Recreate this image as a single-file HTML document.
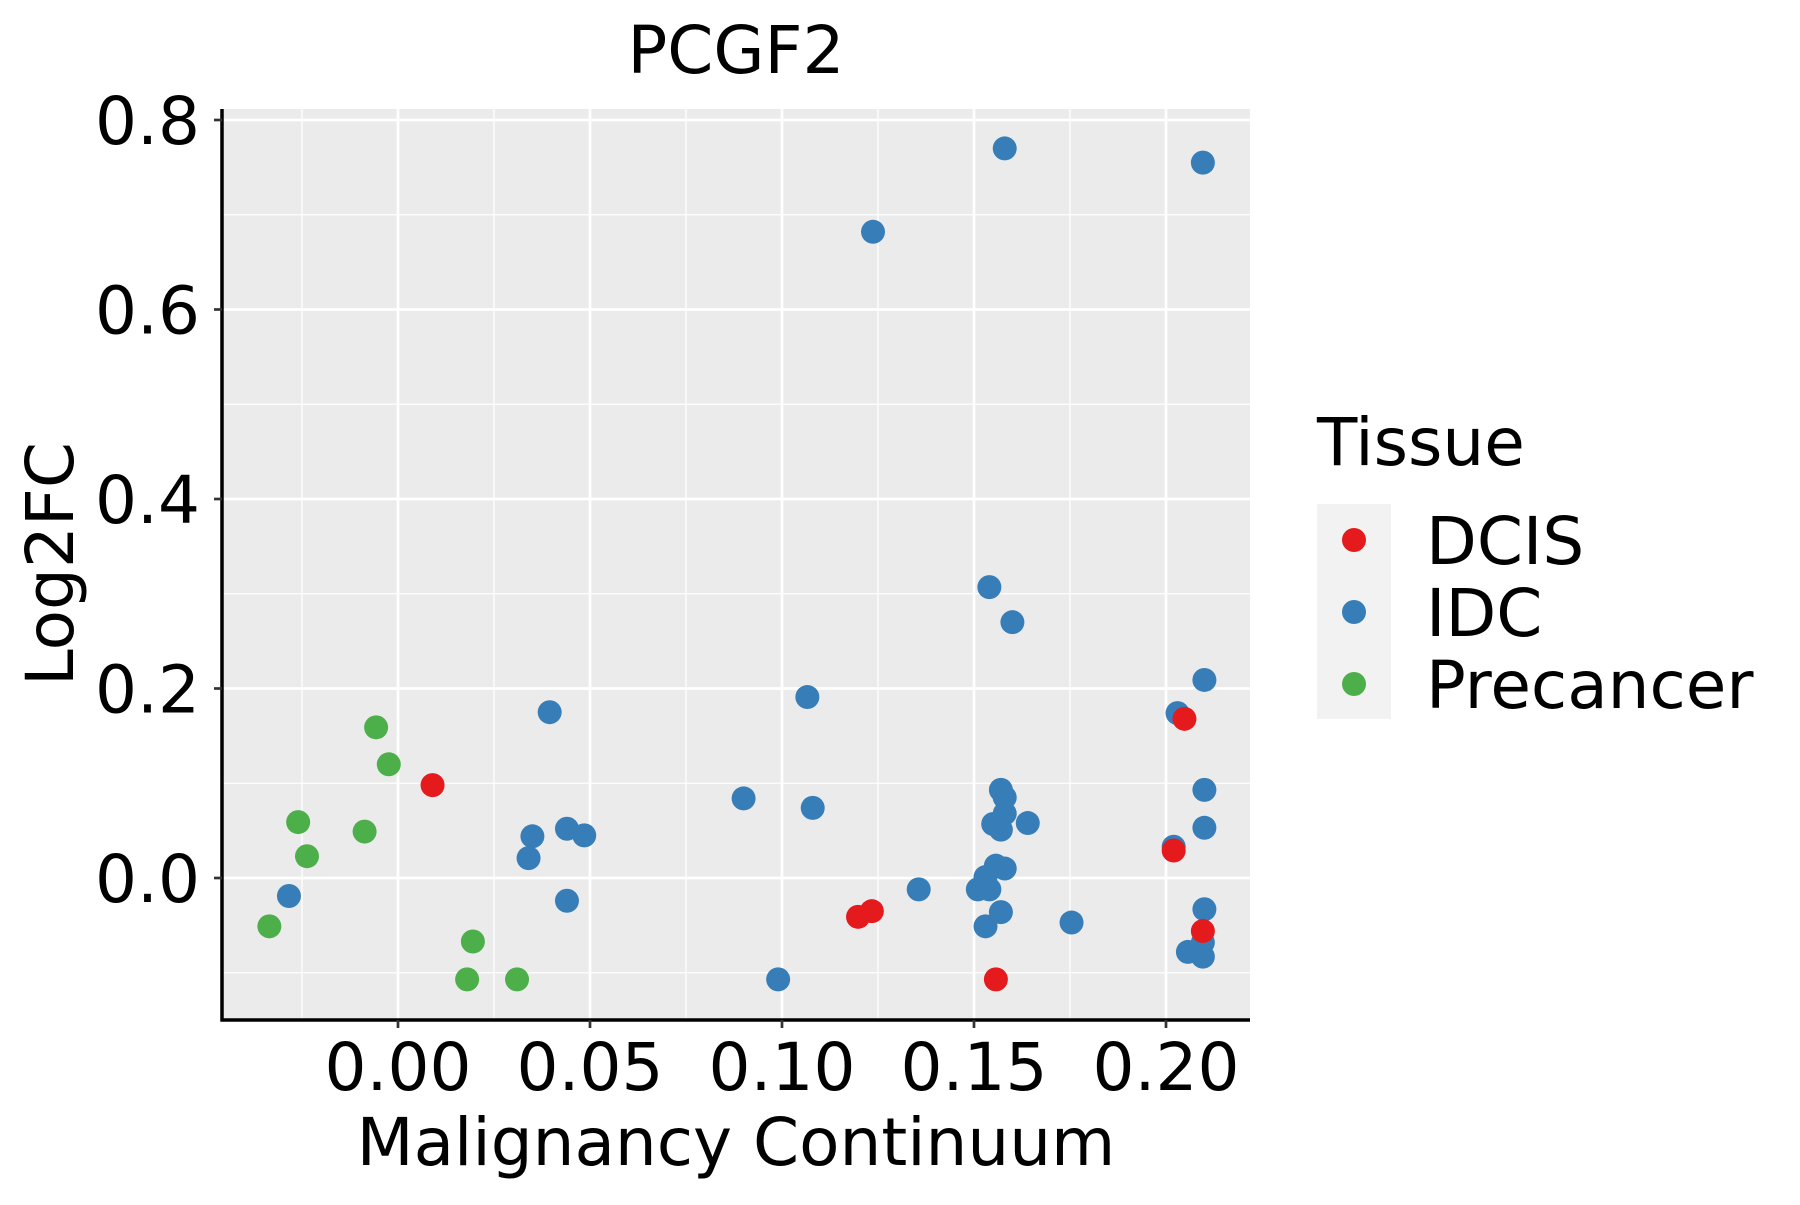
<!DOCTYPE html>
<html><head><meta charset="utf-8"><style>
html,body{margin:0;padding:0;background:#fff;}
svg text{font-family:"DejaVu Sans","Liberation Sans",sans-serif;fill:#000;}
</style></head><body>
<svg id="chart" width="1800" height="1200" xmlns="http://www.w3.org/2000/svg">
<rect x="222" y="109" width="1028" height="911" fill="#ebebeb"/>
<g id="grid"></g>
<g id="points"></g>
<line x1="222" y1="109" x2="222" y2="1021.5" stroke="#000" stroke-width="3.5"/>
<line x1="220.5" y1="1020" x2="1250" y2="1020" stroke="#000" stroke-width="3.5"/>
<g id="axes"></g>
<text x="736" y="73" font-size="66" text-anchor="middle">PCGF2</text>
<text x="736" y="1165" font-size="66" text-anchor="middle">Malignancy Continuum</text>
<text transform="translate(73,564) rotate(-90)" font-size="66" text-anchor="middle">Log2FC</text>
<g>
<text x="1317" y="465" font-size="66">Tissue</text>
<rect x="1317" y="504" width="74" height="215" fill="#f2f2f2"/>
<circle cx="1354" cy="540" r="12" fill="#e41a1c"/>
<circle cx="1354" cy="612" r="12" fill="#377eb8"/>
<circle cx="1354" cy="684" r="12" fill="#4daf4a"/>
<text x="1426" y="564" font-size="66">DCIS</text>
<text x="1426" y="636" font-size="66">IDC</text>
<text x="1426" y="708" font-size="66">Precancer</text>
</g>
</svg>
<script>
const xTicks = [0.00, 0.05, 0.10, 0.15, 0.20];
const xTickLabels = ["0.00", "0.05", "0.10", "0.15", "0.20"];
const yTicks = [0.0, 0.2, 0.4, 0.6, 0.8];
const yTickLabels = ["0.0", "0.2", "0.4", "0.6", "0.8"];
const xMinor = [-0.025, 0.025, 0.075, 0.125, 0.175];
const yMinor = [-0.1, 0.1, 0.3, 0.5, 0.7];
const idcX = [0.158,0.2096,0.1237,0.154,0.160,0.1066,0.0395,0.210,0.203,0.090,0.108,0.210,0.210,0.157,0.158,0.158,0.155,0.157,0.164,0.202,0.044,0.035,0.0485,0.034,-0.0284,0.044,0.1356,0.1557,0.158,0.153,0.151,0.154,0.157,0.153,0.1754,0.099,0.210,0.2096,0.2057,0.2096];
const idcY = [0.770,0.755,0.682,0.307,0.270,0.191,0.175,0.209,0.174,0.084,0.074,0.093,0.053,0.093,0.085,0.068,0.057,0.051,0.058,0.033,0.052,0.044,0.045,0.021,-0.019,-0.024,-0.012,0.013,0.010,0.001,-0.012,-0.012,-0.036,-0.051,-0.047,-0.107,-0.033,-0.068,-0.078,-0.083];
const dcisX = [0.009,0.1198,0.1234,0.1557,0.2048,0.202,0.2096];
const dcisY = [0.098,-0.041,-0.035,-0.107,0.168,0.029,-0.056];
const preX = [-0.0057,-0.0024,-0.0087,-0.026,-0.0237,-0.0335,0.0195,0.018,0.031];
const preY = [0.159,0.120,0.049,0.059,0.023,-0.051,-0.067,-0.107,-0.107];

const NS = "http://www.w3.org/2000/svg";
const PL = 222, PR = 1250, PT = 109, PB = 1020;
function sx(v){ return 398 + v * 3840; }
function sy(v){ return 878 - v * 947.5; }
function mk(tag, attrs, parent){ const e = document.createElementNS(NS, tag); for (const k in attrs) e.setAttribute(k, attrs[k]); parent.appendChild(e); return e; }
const grid = document.getElementById('grid');
const axes = document.getElementById('axes');
const pts = document.getElementById('points');
xMinor.forEach(v => {
  const l = mk('line', {x1: sx(v), x2: sx(v), y1: PT, y2: PB, stroke: '#fff', 'stroke-width': 1.3}, grid);
  
  
});
yMinor.forEach(v => {
  const l = mk('line', {x1: PL, x2: PR, y1: sy(v), y2: sy(v), stroke: '#fff', 'stroke-width': 1.3}, grid);
  
  
});
xTicks.forEach((v, i) => {
  const l = mk('line', {x1: sx(v), x2: sx(v), y1: PT, y2: PB, stroke: '#fff', 'stroke-width': 2.7}, grid);
  
  
  const t = mk('line', {x1: sx(v), x2: sx(v), y1: PB, y2: PB + 8, stroke: '#333', 'stroke-width': 2.7}, axes);
  
  
  const tx = mk('text', {x: sx(v), y: 1090, 'font-size': 66, 'text-anchor': 'middle'}, axes);
  tx.textContent = xTickLabels[i];
  
  
});
yTicks.forEach((v, i) => {
  const l = mk('line', {x1: PL, x2: PR, y1: sy(v), y2: sy(v), stroke: '#fff', 'stroke-width': 2.7}, grid);
  
  
  const t = mk('line', {x1: PL - 8, x2: PL, y1: sy(v), y2: sy(v), stroke: '#333', 'stroke-width': 2.7}, axes);
  
  
  const tx = mk('text', {x: 200, y: sy(v) + 24, 'font-size': 66, 'text-anchor': 'end'}, axes);
  tx.textContent = yTickLabels[i];
  
  
});
function series(xs, ys, color, name){
  xs.forEach((x, i) => {
    const c = mk('circle', {cx: sx(x), cy: sy(ys[i]), r: 12, fill: color}, pts);
    
    
  });
}
series(idcX, idcY, '#377eb8', 'idc-point');
series(dcisX, dcisY, '#e41a1c', 'dcis-point');
series(preX, preY, '#4daf4a', 'precancer-point');
</script>
</body></html>
